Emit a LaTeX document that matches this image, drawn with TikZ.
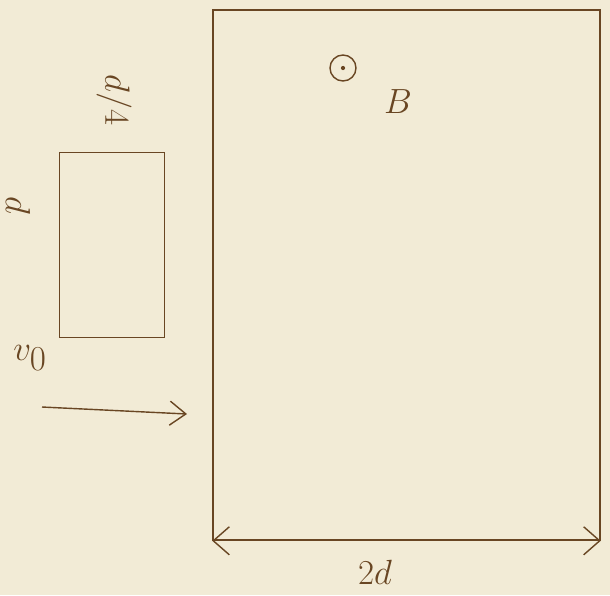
\documentclass[tikz,border=0pt]{standalone}
\usetikzlibrary{arrows.meta}
\colorlet{ink}{black!45!brown}
\tikzset{lab/.style={text=ink,font=\fontsize{34}{38}\selectfont},
  sketch/.style={draw=ink,line width=1pt}}
\begin{document}
\begin{tikzpicture}[x=0.025cm,y=-0.025cm]
\fill[fill={rgb,255:red,242;green,235;blue,214}] (0,0) rectangle (610,595);
\node[sketch,minimum width=9.675cm,minimum height=13.25cm,inner sep=0pt] (field) at (406.5,275) {};
\node[sketch,minimum width=2.625cm,minimum height=4.625cm,inner sep=0pt] (loop) at (112,245) {};
\node[lab,rotate=-90] (width) at (114,100) {$d/4$};
\node[lab,rotate=-90] (height) at (18,205) {$d$};
\node[lab] (speed) at (30,358) {$v_0$};
\coordinate (vstart) at (42,407);
\coordinate (vend) at (187,414);
\draw[sketch,-{Straight Barb[length=4mm,width=6mm]}] (vstart) -- (vend);
\node[sketch,circle,minimum size=0.65cm,inner sep=0pt] (out) at (343,68) {};
\fill[ink] (out.center) circle (1.5pt);
\node[lab] (field label) at (398,102) {$B$};
\draw[sketch,{Straight Barb[length=4mm,width=7mm]}-{Straight Barb[length=4mm,width=7mm]}] (field.south west) -- (field.south east);
\node[lab] (span) at (375,572) {$2d$};
\end{tikzpicture}
\end{document}
